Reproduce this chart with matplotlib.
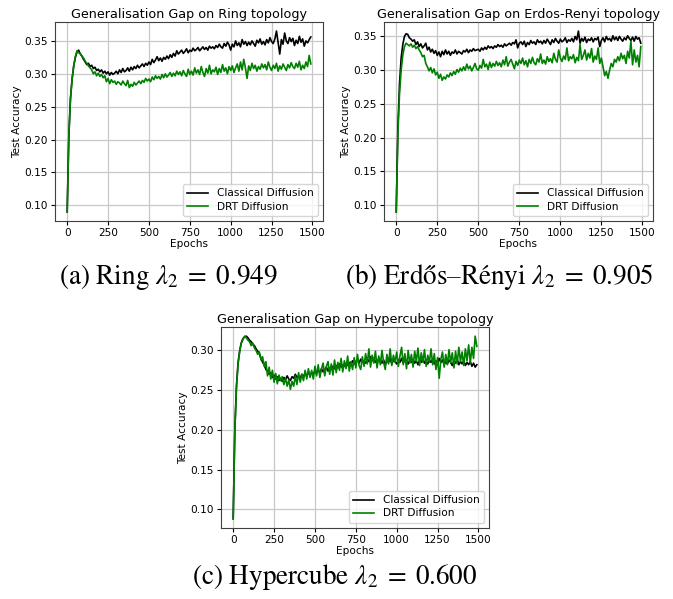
import matplotlib
matplotlib.use("Agg")
import matplotlib.pyplot as plt

epochs = list(range(0, 1500, 10))

ring_classical = [
    0.090, 0.205, 0.262, 0.292, 0.312, 0.325, 0.333, 0.336, 0.330, 0.327,
    0.322, 0.318, 0.314, 0.316, 0.311, 0.313, 0.308, 0.310, 0.305, 0.307,
    0.303, 0.306, 0.301, 0.304, 0.300, 0.303, 0.298, 0.302, 0.299, 0.301,
    0.304, 0.300, 0.306, 0.302, 0.308, 0.303, 0.305, 0.309, 0.304, 0.310,
    0.306, 0.311, 0.308, 0.313, 0.309, 0.312, 0.315, 0.311, 0.316, 0.313,
    0.318, 0.314, 0.322, 0.317, 0.321, 0.326, 0.320, 0.324, 0.319, 0.325,
    0.322, 0.327, 0.323, 0.329, 0.325, 0.331, 0.327, 0.335, 0.330, 0.333,
    0.336, 0.331, 0.334, 0.338, 0.332, 0.336, 0.334, 0.339, 0.335, 0.337,
    0.340, 0.335, 0.338, 0.341, 0.337, 0.340, 0.336, 0.342, 0.339, 0.341,
    0.338, 0.343, 0.340, 0.345, 0.341, 0.339, 0.346, 0.342, 0.348, 0.344,
    0.336, 0.345, 0.341, 0.350, 0.343, 0.347, 0.341, 0.352, 0.345, 0.349,
    0.343, 0.348, 0.344, 0.350, 0.346, 0.342, 0.351, 0.347, 0.353, 0.345,
    0.349, 0.344, 0.352, 0.347, 0.355, 0.349, 0.346, 0.353, 0.365, 0.348,
    0.330, 0.352, 0.345, 0.362, 0.350, 0.346, 0.355, 0.349, 0.354, 0.343,
    0.351, 0.346, 0.357, 0.348, 0.353, 0.342, 0.350, 0.347, 0.352, 0.356,
]
ring_drt = [
    0.090, 0.205, 0.262, 0.292, 0.312, 0.326, 0.335, 0.332, 0.331, 0.327,
    0.324, 0.319, 0.316, 0.312, 0.309, 0.306, 0.300, 0.303, 0.297, 0.301,
    0.296, 0.299, 0.294, 0.297, 0.288, 0.293, 0.285, 0.291, 0.287, 0.289,
    0.284, 0.288, 0.286, 0.283, 0.289, 0.285, 0.282, 0.290, 0.279, 0.284,
    0.281, 0.287, 0.283, 0.286, 0.289, 0.285, 0.290, 0.287, 0.293, 0.289,
    0.292, 0.288, 0.295, 0.291, 0.297, 0.293, 0.296, 0.292, 0.299, 0.294,
    0.300, 0.295, 0.298, 0.302, 0.296, 0.301, 0.297, 0.304, 0.299, 0.303,
    0.297, 0.305, 0.300, 0.296, 0.307, 0.299, 0.304, 0.298, 0.309, 0.301,
    0.306, 0.299, 0.311, 0.302, 0.296, 0.308, 0.301, 0.313, 0.300, 0.306,
    0.303, 0.310, 0.299, 0.308, 0.302, 0.314, 0.304, 0.309, 0.300, 0.311,
    0.305, 0.312, 0.302, 0.309, 0.315, 0.304, 0.318, 0.306, 0.322, 0.309,
    0.293, 0.312, 0.305, 0.316, 0.308, 0.313, 0.304, 0.311, 0.307, 0.315,
    0.309, 0.314, 0.306, 0.318, 0.310, 0.305, 0.313, 0.308, 0.316, 0.304,
    0.312, 0.307, 0.315, 0.310, 0.305, 0.314, 0.309, 0.317, 0.311, 0.308,
    0.316, 0.310, 0.319, 0.306, 0.313, 0.308, 0.318, 0.311, 0.328, 0.315,
]

er_classical = [
    0.090, 0.215, 0.280, 0.318, 0.338, 0.350, 0.354, 0.353, 0.348, 0.346,
    0.343, 0.345, 0.338, 0.342, 0.335, 0.339, 0.333, 0.336, 0.340, 0.330,
    0.334, 0.327, 0.331, 0.325, 0.329, 0.322, 0.327, 0.320, 0.328, 0.323,
    0.330, 0.324, 0.328, 0.322, 0.327, 0.325, 0.330, 0.324, 0.328, 0.326,
    0.324, 0.329, 0.327, 0.331, 0.326, 0.330, 0.328, 0.332, 0.329, 0.330,
    0.331, 0.328, 0.333, 0.330, 0.334, 0.331, 0.336, 0.333, 0.335, 0.332,
    0.336, 0.334, 0.338, 0.335, 0.337, 0.334, 0.339, 0.336, 0.338, 0.340,
    0.337, 0.341, 0.339, 0.345, 0.333, 0.340, 0.342, 0.338, 0.343, 0.335,
    0.341, 0.338, 0.344, 0.340, 0.342, 0.338, 0.345, 0.341, 0.343, 0.339,
    0.344, 0.340, 0.346, 0.342, 0.338, 0.345, 0.341, 0.347, 0.343, 0.340,
    0.346, 0.342, 0.344, 0.348, 0.341, 0.345, 0.343, 0.347, 0.342, 0.350,
    0.345, 0.358, 0.340, 0.347, 0.343, 0.349, 0.341, 0.346, 0.344, 0.348,
    0.342, 0.347, 0.345, 0.349, 0.335, 0.344, 0.348, 0.342, 0.350, 0.345,
    0.347, 0.343, 0.351, 0.345, 0.349, 0.344, 0.350, 0.346, 0.343, 0.348,
    0.345, 0.351, 0.347, 0.344, 0.349, 0.343, 0.350, 0.346, 0.348, 0.340,
]
er_drt = [
    0.090, 0.205, 0.265, 0.300, 0.322, 0.335, 0.340, 0.338, 0.336, 0.339,
    0.334, 0.337, 0.332, 0.335, 0.330, 0.326, 0.320, 0.322, 0.310, 0.305,
    0.299, 0.304, 0.296, 0.302, 0.293, 0.297, 0.288, 0.294, 0.285, 0.290,
    0.287, 0.293, 0.290, 0.296, 0.292, 0.298, 0.294, 0.301, 0.297, 0.303,
    0.299, 0.305, 0.300, 0.309, 0.302, 0.306, 0.299, 0.304, 0.310, 0.302,
    0.300, 0.307, 0.303, 0.316, 0.305, 0.309, 0.301, 0.312, 0.304, 0.310,
    0.306, 0.313, 0.307, 0.311, 0.305, 0.315, 0.308, 0.320, 0.306, 0.312,
    0.316, 0.309, 0.302, 0.313, 0.307, 0.315, 0.310, 0.318, 0.308, 0.314,
    0.305, 0.316, 0.310, 0.319, 0.311, 0.308, 0.317, 0.312, 0.324, 0.310,
    0.315, 0.309, 0.320, 0.313, 0.317, 0.311, 0.325, 0.316, 0.312, 0.330,
    0.318, 0.313, 0.321, 0.316, 0.333, 0.314, 0.320, 0.317, 0.323, 0.311,
    0.319, 0.314, 0.338, 0.316, 0.322, 0.330, 0.315, 0.325, 0.318, 0.332,
    0.312, 0.321, 0.316, 0.333, 0.310, 0.318, 0.305, 0.292, 0.298, 0.288,
    0.300, 0.310, 0.305, 0.316, 0.312, 0.320, 0.314, 0.325, 0.317, 0.322,
    0.310, 0.328, 0.318, 0.343, 0.308, 0.330, 0.312, 0.322, 0.305, 0.335,
]

hc_classical = [
    0.088, 0.200, 0.255, 0.285, 0.300, 0.310, 0.315, 0.317, 0.318, 0.316,
    0.313, 0.311, 0.308, 0.306, 0.302, 0.299, 0.296, 0.290, 0.285, 0.282,
    0.276, 0.274, 0.270, 0.272, 0.266, 0.269, 0.264, 0.267, 0.262, 0.265,
    0.261, 0.266, 0.263, 0.268, 0.264, 0.262, 0.267, 0.265, 0.270, 0.266,
    0.268, 0.265, 0.270, 0.267, 0.271, 0.268, 0.273, 0.269, 0.272, 0.270,
    0.274, 0.271, 0.275, 0.272, 0.277, 0.273, 0.276, 0.279, 0.274, 0.278,
    0.276, 0.280, 0.277, 0.281, 0.278, 0.283, 0.279, 0.282, 0.280, 0.284,
    0.281, 0.285, 0.282, 0.287, 0.283, 0.286, 0.288, 0.284, 0.289, 0.285,
    0.287, 0.284, 0.289, 0.286, 0.292, 0.287, 0.290, 0.285, 0.288, 0.286,
    0.289, 0.284, 0.288, 0.282, 0.287, 0.285, 0.290, 0.283, 0.288, 0.286,
    0.283, 0.288, 0.285, 0.290, 0.284, 0.289, 0.286, 0.283, 0.288, 0.285,
    0.289, 0.284, 0.287, 0.282, 0.288, 0.285, 0.290, 0.284, 0.287, 0.283,
    0.288, 0.285, 0.289, 0.283, 0.287, 0.284, 0.290, 0.285, 0.288, 0.282,
    0.286, 0.283, 0.288, 0.285, 0.281, 0.287, 0.284, 0.289, 0.282, 0.286,
    0.283, 0.287, 0.281, 0.285, 0.282, 0.286, 0.280, 0.284, 0.279, 0.282,
]
hc_drt = [
    0.088, 0.198, 0.253, 0.283, 0.299, 0.309, 0.314, 0.318, 0.316, 0.313,
    0.311, 0.306, 0.309, 0.303, 0.300, 0.295, 0.298, 0.288, 0.292, 0.280,
    0.286, 0.268, 0.279, 0.264, 0.275, 0.260, 0.271, 0.258, 0.269, 0.262,
    0.267, 0.257, 0.265, 0.255, 0.263, 0.251, 0.261, 0.255, 0.268, 0.257,
    0.272, 0.260, 0.270, 0.262, 0.275, 0.264, 0.277, 0.266, 0.275, 0.264,
    0.280, 0.268, 0.282, 0.266, 0.277, 0.284, 0.268, 0.280, 0.286, 0.270,
    0.283, 0.269, 0.288, 0.272, 0.285, 0.275, 0.290, 0.273, 0.287, 0.277,
    0.293, 0.274, 0.286, 0.276, 0.291, 0.278, 0.295, 0.281, 0.276, 0.292,
    0.280, 0.296, 0.283, 0.302, 0.279, 0.294, 0.284, 0.299, 0.278, 0.293,
    0.282, 0.300, 0.285, 0.276, 0.295, 0.283, 0.302, 0.281, 0.294, 0.285,
    0.298, 0.280, 0.293, 0.304, 0.282, 0.296, 0.277, 0.300, 0.284, 0.295,
    0.279, 0.299, 0.286, 0.303, 0.281, 0.297, 0.285, 0.301, 0.280, 0.294,
    0.285, 0.302, 0.282, 0.296, 0.276, 0.291, 0.265, 0.289, 0.298, 0.279,
    0.295, 0.282, 0.301, 0.285, 0.297, 0.278, 0.299, 0.283, 0.304, 0.286,
    0.298, 0.281, 0.302, 0.287, 0.307, 0.284, 0.304, 0.290, 0.318, 0.305,
]

titles = [
    "Generalisation Gap on Ring topology",
    "Generalisation Gap on Erdos-Renyi topology",
    "Generalisation Gap on Hypercube topology",
]
captions = [
    r"(a) Ring $\lambda_2\;=\;0.949$",
    r"(b) Erdős–Rényi $\lambda_2\;=\;0.905$",
    r"(c) Hypercube $\lambda_2\;=\;0.600$",
]
series = [
    (ring_classical, ring_drt),
    (er_classical, er_drt),
    (hc_classical, hc_drt),
]

plt.rcParams["mathtext.fontset"] = "stix"

W, H = 673, 599
fig = plt.figure(figsize=(W / 100, H / 100), dpi=100)

axes_px = [(55, 22, 268, 199), (384, 22, 269, 199), (221, 327, 268, 201)]
caption_px = [(168, 277), (499, 277), (335, 577)]

fs = 7.6
for i, (l, t, w, h) in enumerate(axes_px):
    ax = fig.add_axes([l / W, (H - t - h) / H, w / W, h / H])
    cls, drt = series[i]
    ax.plot(epochs, cls, color="black", lw=1.2, label="Classical Diffusion")
    ax.plot(epochs, drt, color="green", lw=1.2, label="DRT Diffusion")
    ax.set_title(titles[i], fontsize=9.2, pad=3)
    ax.set_xlabel("Epochs", fontsize=fs, labelpad=1)
    ax.set_ylabel("Test Accuracy", fontsize=fs, labelpad=2)
    ax.set_xticks([0, 250, 500, 750, 1000, 1250, 1500])
    ax.tick_params(labelsize=fs, length=3, pad=2)
    ax.grid(True, color="#c8c8c8", lw=0.9)
    for s in ax.spines.values():
        s.set_color("#404040")
    ax.legend(loc="lower right", fontsize=fs, handlelength=2.0,
              borderpad=0.4, labelspacing=0.3)
    cx, cy = caption_px[i]
    fig.text(cx / W, (H - cy) / H, captions[i], fontsize=19.5,
             family="STIXGeneral", ha="center", va="center")

fig.savefig("out.png", dpi=100)
